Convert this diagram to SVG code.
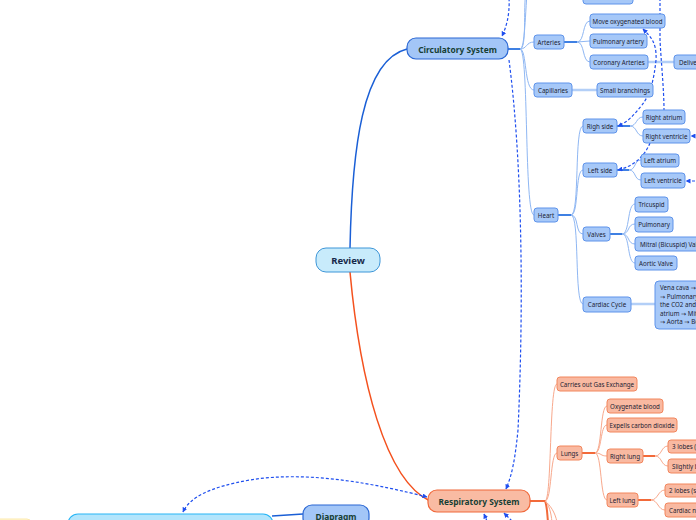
<svg xmlns="http://www.w3.org/2000/svg" width="696" height="520" viewBox="0 0 696 520">
<style>
.bg{fill:#ffffff}
.cn{fill:#a6c8f8;stroke:#5e93ea;stroke-width:1}
.rn{fill:#f9b9a1;stroke:#f2865d;stroke-width:1}
.t{font-family:"Noto Sans","DejaVu Sans",sans-serif;font-size:6.2px;fill:#1b2233}
.tm{font-family:"Noto Sans","DejaVu Sans",sans-serif;font-size:8.4px;font-weight:bold;fill:#173f35}
.cb{fill:none;stroke:#3f80e3;stroke-width:2}
.cl{fill:none;stroke:#8fb7f3;stroke-width:1}
.cw{fill:none;stroke:#b3cff7;stroke-width:2.5}
.ob{fill:none;stroke:#f26a3a;stroke-width:2}
.ol{fill:none;stroke:#f8a88c;stroke-width:1}
.ow{fill:none;stroke:#fbc3ae;stroke-width:2.5}
.rel{fill:none;stroke:#1f4fef;stroke-width:1.2;stroke-dasharray:3 2}
</style>
<defs>
<marker id="ah" viewBox="0 0 10 10" refX="9" refY="5" markerWidth="5" markerHeight="5" orient="auto-start-reverse" markerUnits="userSpaceOnUse">
<path d="M0,0 L10,5 L0,10 z" fill="#1f4fef"/>
</marker>
</defs>
<rect class="bg" x="0" y="0" width="696" height="520"/>

<g id="connectors">
<path d="M350,248 C352,150 362,60 407,49" fill="none" stroke="#1a5fd6" stroke-width="1.5"/>
<path d="M350,272 C360,380 385,480 430,501" fill="none" stroke="#f4511e" stroke-width="1.5"/>
<path d="M272,516 L303,514" fill="none" stroke="#1a5fd6" stroke-width="1.5"/>
<!-- circulatory tree -->
<path class="cb" d="M508,49 L520,49"/>
<path class="cl" d="M520,49 C527,49 523,10 526,-10"/>
<path class="cl" d="M520,49 C525,49 525,15 528,-20"/>
<path class="cl" d="M520,49 C527,49 526,42 534,42"/>
<path class="cl" d="M520,49 C527,49 524,90 534,90"/>
<path class="cl" d="M520,49 C529,49 524,215 534,215"/>
<path class="cl" d="M560,-10 C570,-10 572,-3 583,-3"/>
<!-- arteries -->
<path class="cb" d="M564,42 L577,42"/>
<path class="cl" d="M577,42 C585,42 582,21 590,21"/>
<path class="cl" d="M577,42 L590,41"/>
<path class="cl" d="M577,42 C585,42 582,62 590,62"/>
<path class="cw" d="M648,62 L674,62"/>
<path class="cw" d="M572,90 L597,90"/>
<!-- heart -->
<path class="cb" d="M558,215 L571,215"/>
<path class="cl" d="M571,215 C580,215 574,126 583,126"/>
<path class="cl" d="M571,215 C579,215 575,170 583,170"/>
<path class="cl" d="M571,215 C579,215 575,234 583,234"/>
<path class="cl" d="M571,215 C580,215 574,304 583,304"/>
<path class="cb" d="M617,126 L630,126"/>
<path class="cl" d="M630,126 C637,126 636,117 643,117"/>
<path class="cl" d="M630,126 C637,126 636,136 643,136"/>
<path class="cb" d="M617,170 L629,170"/>
<path class="cl" d="M629,170 C636,170 634,160 641,160"/>
<path class="cl" d="M629,170 C636,170 634,180 641,180"/>
<path class="cb" d="M610,234 L622,234"/>
<path class="cl" d="M622,234 C630,234 627,204 635,204"/>
<path class="cl" d="M622,234 C630,234 627,224 635,224"/>
<path class="cl" d="M622,234 C630,234 627,244 635,244"/>
<path class="cl" d="M622,234 C630,234 627,263 635,263"/>
<path class="cw" d="M631,304 L655,304"/>
<!-- respiratory tree -->
<path class="ob" d="M530,501 L545,501"/>
<path class="ol" d="M545,501 C552,501 549,384 557,384"/>
<path class="ol" d="M545,501 C552,501 550,453 557,453"/>
<path class="ob" d="M545,501 C547,505 547,512 548,522"/>
<path class="ol" d="M545,501 C549,505 551,512 552,522"/>
<path class="ol" d="M545,501 C550,505 555,512 557,522"/>
<path class="ob" d="M582,453 L595,453"/>
<path class="ol" d="M595,453 C602,453 600,406 607,406"/>
<path class="ol" d="M595,453 C602,453 600,425 607,425"/>
<path class="ol" d="M595,453 C602,453 600,456 607,456"/>
<path class="ol" d="M595,453 C602,453 600,500 607,500"/>
<path class="ob" d="M643,456 L655,456"/>
<path class="ol" d="M655,456 C662,456 661,446 668,446"/>
<path class="ol" d="M655,456 C662,456 661,466 668,466"/>
<path class="ob" d="M638,500 L651,500"/>
<path class="ol" d="M651,500 C658,500 658,490 665,490"/>
<path class="ol" d="M651,500 C658,500 658,510 665,510"/>
<!-- relationships -->
<path class="rel" d="M509,-2 C510,15 506,28 502,36" marker-end="url(#ah)"/>
<path class="rel" d="M509,60 C522,160 524,300 518,430 C515,460 512,475 506,489" marker-end="url(#ah)"/>
<path class="rel" d="M427,497 C380,485 310,470 250,480 C210,487 190,497 183,512" marker-start="url(#ah)" marker-end="url(#ah)"/>
<path class="rel" d="M487,521 L484,514" marker-end="url(#ah)"/>
<path class="rel" d="M512,521 L504,513" marker-end="url(#ah)"/>
<path class="rel" d="M643,29 C650,36 657,42 656,60 C654,80 650,95 642,105 C634,115 628,122 618,126" marker-start="url(#ah)" marker-end="url(#ah)"/>
<path class="rel" d="M660,-2 L660,40 C661,60 664,90 664,110"/>
<path class="rel" d="M650,143 C645,155 635,166 618,170" marker-end="url(#ah)"/>
<path class="rel" d="M700,136 L691,136" marker-end="url(#ah)"/>
<path class="rel" d="M700,181 L686,181" marker-end="url(#ah)"/>
</g>

<g id="review"><rect x="316" y="248" width="64" height="24" rx="10" fill="#c8ebfb" stroke="#3d96d8" stroke-width="1"/><text x="348" y="260.5" text-anchor="middle" dominant-baseline="central" font-family="Noto Sans, DejaVu Sans, sans-serif" font-size="9.5" font-weight="bold" fill="#17294a">Review</text></g>
<g id="circulatory"><rect x="407" y="38" width="101" height="21" rx="9" fill="#a3c6f7" stroke="#2a67d4" stroke-width="1.2"/><text class="tm" x="457.5" y="49" text-anchor="middle" dominant-baseline="central">Circulatory System</text></g>
<g id="respiratory"><rect x="428" y="490" width="102" height="22" rx="9" fill="#f9bba3" stroke="#f0683a" stroke-width="1.2"/><text class="tm" x="479" y="501.5" text-anchor="middle" dominant-baseline="central">Respiratory System</text></g>
<g id="diapragm"><rect x="303" y="505" width="66" height="22" rx="9" fill="#a3c6f7" stroke="#2a67d4" stroke-width="1.2"/><text class="tm" x="336" y="516.5" text-anchor="middle" dominant-baseline="central">Diapragm</text></g>
<g id="body-node"><rect x="68" y="514" width="205" height="30" rx="10" fill="#b3e5fc" stroke="#29b6f6" stroke-width="1.2"/></g>
<g id="yellow-node"><rect x="-10" y="519" width="41" height="20" rx="4" fill="#fff6d5" stroke="#fde9ab" stroke-width="1"/></g>

<g id="top-node"><rect x="583" y="-12" width="50" height="16" rx="3" class="cn"/></g>
<g id="arteries"><rect x="534" y="35" width="30" height="14" rx="3" class="cn"/><text class="t" x="549" y="42" text-anchor="middle" dominant-baseline="central">Arteries</text></g>
<g id="move-oxy"><rect x="590" y="14" width="75" height="14" rx="3" class="cn"/><text class="t" x="627.5" y="21" text-anchor="middle" dominant-baseline="central">Move oxygenated blood</text></g>
<g id="pulm-artery"><rect x="590" y="34" width="57" height="14" rx="3" class="cn"/><text class="t" x="618.5" y="41" text-anchor="middle" dominant-baseline="central">Pulmonary artery</text></g>
<g id="coronary"><rect x="590" y="55" width="58" height="14" rx="3" class="cn"/><text class="t" x="619" y="62" text-anchor="middle" dominant-baseline="central">Coronary Arteries</text></g>
<g id="deliv"><rect x="674" y="55" width="40" height="14" rx="3" class="cn"/><text class="t" x="679" y="62" dominant-baseline="central">Delivers</text></g>
<g id="capillaries"><rect x="534" y="83" width="38" height="14" rx="3" class="cn"/><text class="t" x="553" y="90" text-anchor="middle" dominant-baseline="central">Capillaries</text></g>
<g id="small-branch"><rect x="597" y="83" width="56" height="14" rx="3" class="cn"/><text class="t" x="625" y="90" text-anchor="middle" dominant-baseline="central">Small branchings</text></g>
<g id="heart"><rect x="534" y="208" width="24" height="14" rx="3" class="cn"/><text class="t" x="546" y="215" text-anchor="middle" dominant-baseline="central">Heart</text></g>
<g id="righ-side"><rect x="583" y="119" width="34" height="14" rx="3" class="cn"/><text class="t" x="600" y="126" text-anchor="middle" dominant-baseline="central">Righ side</text></g>
<g id="right-atrium"><rect x="643" y="110" width="42" height="14" rx="3" class="cn"/><text class="t" x="664" y="117" text-anchor="middle" dominant-baseline="central">Right atrium</text></g>
<g id="right-ventricle"><rect x="643" y="129" width="47" height="14" rx="3" class="cn"/><text class="t" x="666.5" y="136" text-anchor="middle" dominant-baseline="central">Right ventricle</text></g>
<g id="left-side"><rect x="583" y="163" width="34" height="14" rx="3" class="cn"/><text class="t" x="600" y="170" text-anchor="middle" dominant-baseline="central">Left side</text></g>
<g id="left-atrium"><rect x="641" y="154" width="38" height="13" rx="3" class="cn"/><text class="t" x="660" y="160.5" text-anchor="middle" dominant-baseline="central">Left atrium</text></g>
<g id="left-ventricle"><rect x="641" y="173" width="44" height="15" rx="3" class="cn"/><text class="t" x="663" y="180.5" text-anchor="middle" dominant-baseline="central">Left ventricle</text></g>
<g id="valves"><rect x="583" y="227" width="27" height="14" rx="3" class="cn"/><text class="t" x="596.5" y="234" text-anchor="middle" dominant-baseline="central">Valves</text></g>
<g id="tricuspid"><rect x="635" y="197" width="33" height="15" rx="3" class="cn"/><text class="t" x="651.5" y="204.5" text-anchor="middle" dominant-baseline="central">Tricuspid</text></g>
<g id="pulmonary"><rect x="635" y="217" width="38" height="15" rx="3" class="cn"/><text class="t" x="654" y="224.5" text-anchor="middle" dominant-baseline="central">Pulmonary</text></g>
<g id="mitral"><rect x="635" y="237" width="80" height="14" rx="3" class="cn"/><text class="t" x="640" y="244" dominant-baseline="central">Mitral (Bicuspid) Valve</text></g>
<g id="aortic"><rect x="635" y="256" width="42" height="14" rx="3" class="cn"/><text class="t" x="656" y="263" text-anchor="middle" dominant-baseline="central">Aortic Valve</text></g>
<g id="cardiac-cycle"><rect x="583" y="297" width="48" height="15" rx="3" class="cn"/><text class="t" x="607" y="304.5" text-anchor="middle" dominant-baseline="central">Cardiac Cycle</text></g>
<g id="cycle-text"><rect x="655" y="281" width="80" height="48" rx="4" class="cn"/>
<text class="t" x="660" y="290">Vena cava → Right atrium → Tricuspid</text>
<text class="t" x="660" y="298.5">→ Pulmonary artery → Lungs (drop off</text>
<text class="t" x="660" y="307">the CO2 and pick up O2)</text>
<text class="t" x="660" y="315.5">atrium → Mitral → Left ventricle</text>
<text class="t" x="660" y="324">→ Aorta → Body</text></g>

<g id="gas-exchange"><rect x="557" y="377" width="80" height="14" rx="3" class="rn"/><text class="t" x="597" y="384" text-anchor="middle" dominant-baseline="central">Carries out Gas Exchange</text></g>
<g id="lungs"><rect x="557" y="446" width="25" height="14" rx="3" class="rn"/><text class="t" x="569.5" y="453" text-anchor="middle" dominant-baseline="central">Lungs</text></g>
<g id="oxygenate"><rect x="607" y="399" width="56" height="14" rx="3" class="rn"/><text class="t" x="635" y="406" text-anchor="middle" dominant-baseline="central">Oxygenate blood</text></g>
<g id="expells"><rect x="607" y="418" width="70" height="14" rx="3" class="rn"/><text class="t" x="642" y="425" text-anchor="middle" dominant-baseline="central">Expells carbon dioxide</text></g>
<g id="right-lung"><rect x="607" y="449" width="36" height="14" rx="3" class="rn"/><text class="t" x="625" y="456" text-anchor="middle" dominant-baseline="central">Right lung</text></g>
<g id="left-lung"><rect x="607" y="493" width="31" height="14" rx="3" class="rn"/><text class="t" x="622.5" y="500" text-anchor="middle" dominant-baseline="central">Left lung</text></g>
<g id="three-lobes"><rect x="668" y="440" width="60" height="13" rx="3" class="rn"/><text class="t" x="672" y="446.5" dominant-baseline="central">3 lobes (superior)</text></g>
<g id="slightly"><rect x="668" y="459" width="60" height="14" rx="3" class="rn"/><text class="t" x="672" y="466" dominant-baseline="central">Slightly bigger</text></g>
<g id="two-lobes"><rect x="665" y="484" width="60" height="13" rx="3" class="rn"/><text class="t" x="669" y="490.5" dominant-baseline="central">2 lobes (superior)</text></g>
<g id="cardiac-notch"><rect x="665" y="503" width="60" height="14" rx="3" class="rn"/><text class="t" x="669" y="510" dominant-baseline="central">Cardiac notch</text></g>
</svg>
